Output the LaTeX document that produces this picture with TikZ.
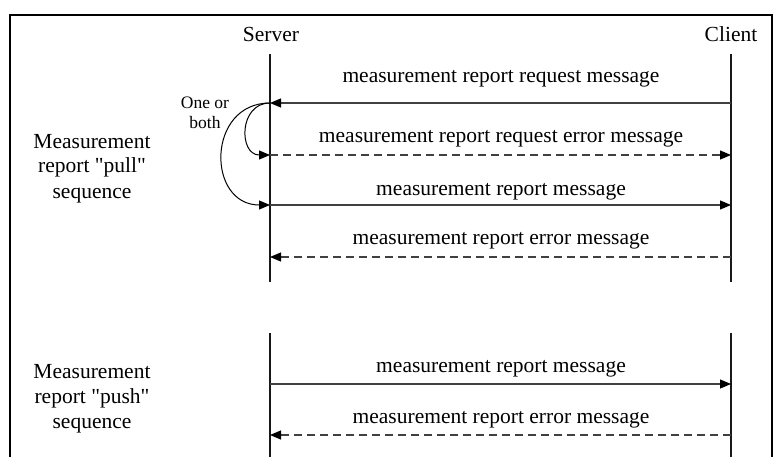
\documentclass[tikz,border=0pt]{standalone}
\usepackage{fontspec}
\setmainfont{Liberation Serif}
\usetikzlibrary{arrows.meta}
\begin{document}
\begin{tikzpicture}[x=1pt,y=-1pt,
  lifeline/.style={line width=1.2pt,draw=black!90},
  msg/.style={line width=1.2pt,draw=black!75,-{Triangle[length=11pt,width=9pt,color=black]}},
  errmsg/.style={msg,dash pattern=on 8pt off 5pt},
  lbl/.style={font=\fontsize{21.5}{24}\selectfont,inner sep=0pt,anchor=base},
  side/.style={font=\fontsize{21.5}{25}\selectfont,align=center,inner sep=0pt,anchor=base},
  hdr/.style={font=\fontsize{21.5}{24}\selectfont,inner sep=0pt,anchor=base}]
\useasboundingbox (0,0) rectangle (773,457);
% frame
\draw[line width=1.8pt] (10,457) -- (10,15) -- (772,15) -- (772,457);
% headers
\node[hdr] (server) at (271,42) {Server};
\node[hdr] (client) at (731,42) {Client};
% lifeline coordinates
\coordinate (sT) at (270,54);   \coordinate (cT) at (731,54);
\coordinate (s1) at (270,103);  \coordinate (c1) at (731,103);
\coordinate (s2) at (270,155);  \coordinate (c2) at (731,155);
\coordinate (s3) at (270,205);  \coordinate (c3) at (731,205);
\coordinate (s4) at (270,257);  \coordinate (c4) at (731,257);
\coordinate (sB) at (270,282);  \coordinate (cB) at (731,282);
\coordinate (sT2) at (270,333); \coordinate (cT2) at (731,333);
\coordinate (s5) at (270,384);  \coordinate (c5) at (731,384);
\coordinate (s6) at (270,435);  \coordinate (c6) at (731,435);
\coordinate (sB2) at (270,457); \coordinate (cB2) at (731,457);
\draw[lifeline] (sT) -- (sB);
\draw[lifeline] (cT) -- (cB);
\draw[lifeline] (sT2) -- (sB2);
\draw[lifeline] (cT2) -- (cB2);
% pull sequence
\draw[msg] (c1) -- (s1);
\node[lbl] (m1) at (501,83) {measurement report request message};
\draw[errmsg] (s2) -- (c2);
\node[lbl] (m2) at (501,143) {measurement report request error message};
\draw[msg] (s3) -- (c3);
\node[lbl] (m3) at (501,195) {measurement report message};
\draw[errmsg] (c4) -- (s4);
\node[lbl] (m4) at (501,244) {measurement report error message};
% one or both arcs
\draw[msg,line width=1pt,draw=black] (s1) to[out=180,in=180,looseness=1.55] (s2);
\draw[msg,line width=1pt,draw=black] (s1) to[out=180,in=180,looseness=1.6] (s3);
\node[font=\fontsize{17.5}{20}\selectfont,align=center,inner sep=0pt,anchor=base] (oob) at (205,129) {One or\\both};
% push sequence
\draw[msg] (s5) -- (c5);
\node[lbl] (m5) at (501,372) {measurement report message};
\draw[errmsg] (c6) -- (s6);
\node[lbl] (m6) at (501,423) {measurement report error message};
% side labels
\node[side] (pull) at (92,198) {Measurement\\report \textquotedbl pull\textquotedbl\\sequence};
\node[side] (push) at (92,428) {Measurement\\report \textquotedbl push\textquotedbl\\sequence};
\end{tikzpicture}
\end{document}
